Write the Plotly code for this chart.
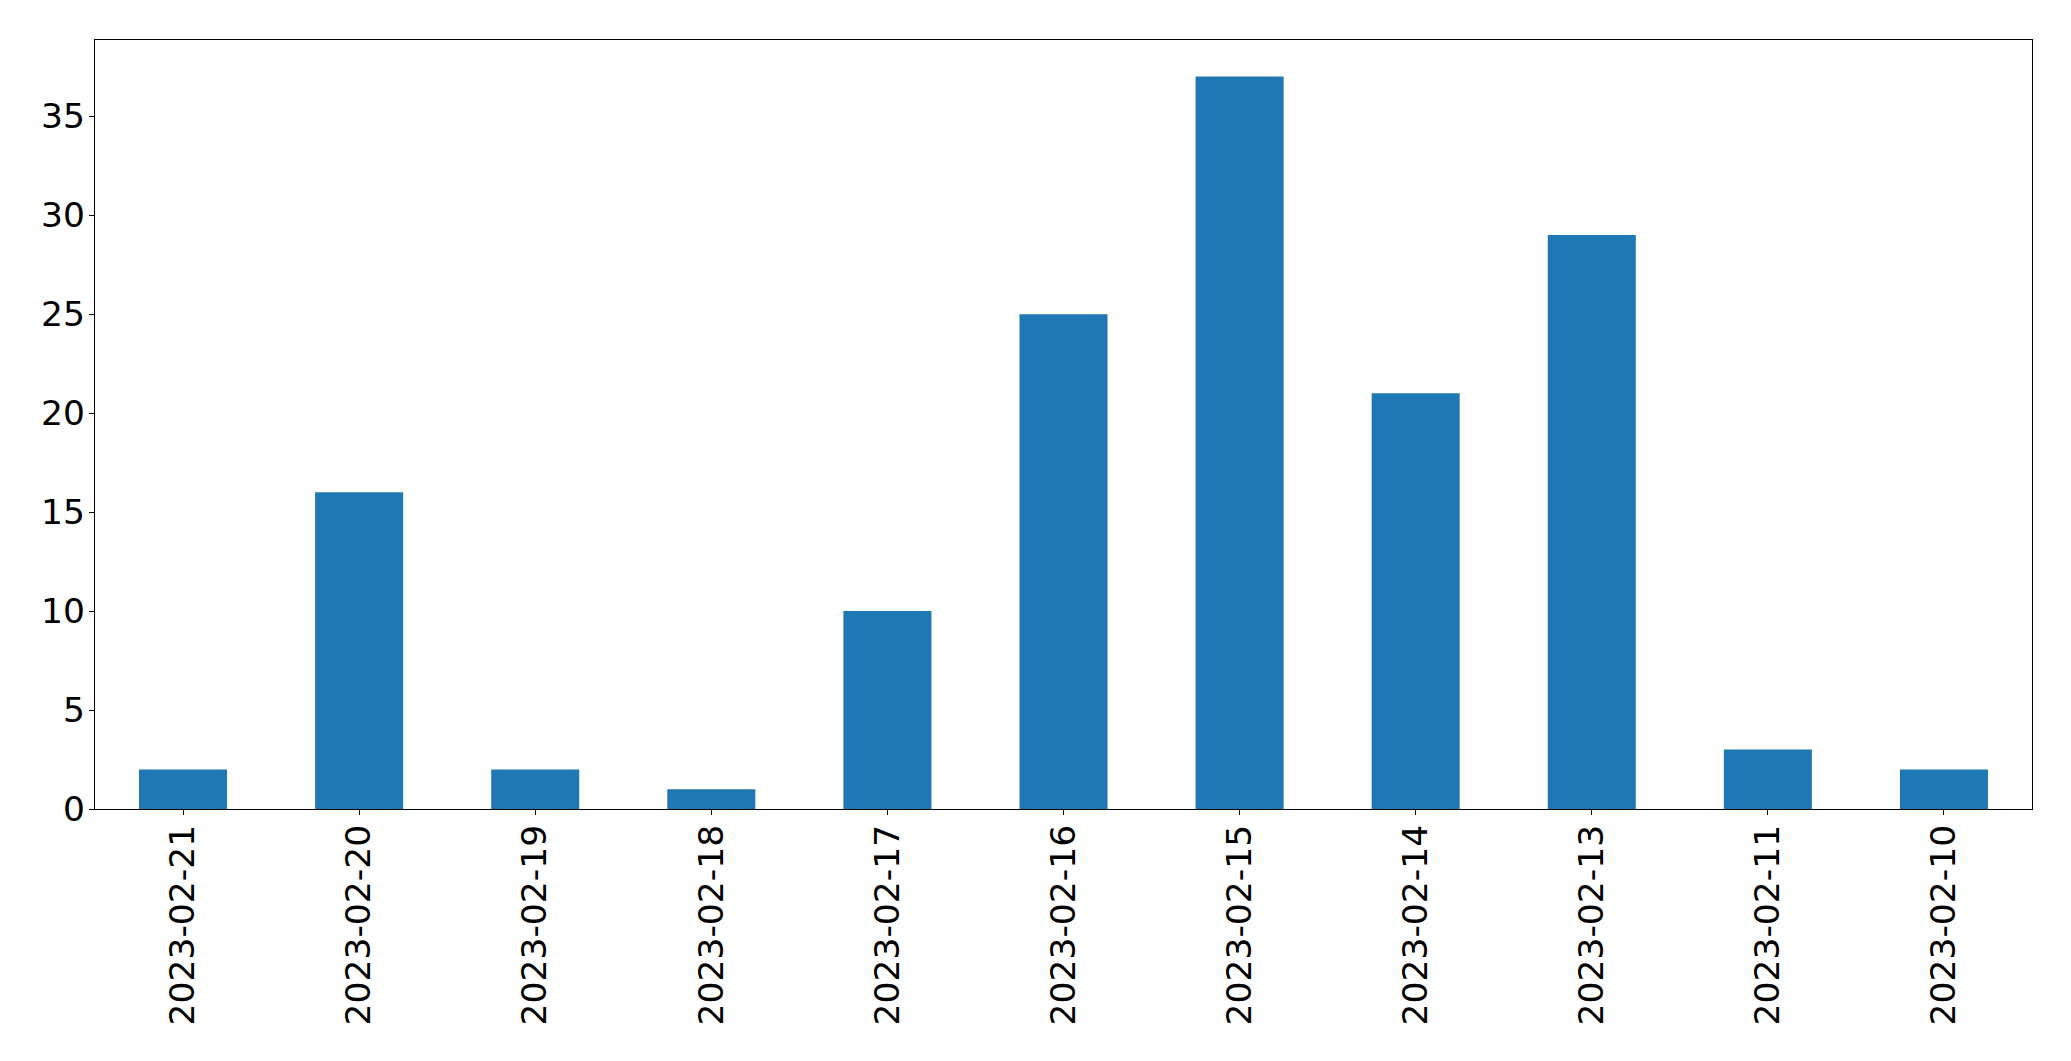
import plotly.graph_objects as go

categories = ["2023-02-21", "2023-02-20", "2023-02-19", "2023-02-18", "2023-02-17",
              "2023-02-16", "2023-02-15", "2023-02-14", "2023-02-13", "2023-02-11", "2023-02-10"]
values = [2, 16, 2, 1, 10, 25, 37, 21, 29, 3, 2]
y_ticks = [0, 5, 10, 15, 20, 25, 30, 35]

fig = go.Figure(go.Bar(x=categories, y=values, width=0.5, marker_color="#1f77b4",
                       marker_line_width=0))

# page body has an 8px margin, so the figure is offset by 8px
fig.update_layout(
    width=2063, height=1053,
    margin=dict(l=87, r=39, t=32, b=252),
    plot_bgcolor="white", paper_bgcolor="white",
    font=dict(family="DejaVu Sans", size=34.5, color="black"),
    showlegend=False,
)
fig.update_xaxes(
    type="category", range=[-0.5, len(categories) - 0.5],
    tickangle=-90, showline=True, linecolor="black", linewidth=1.2, mirror=True,
    ticks="outside", ticklen=5, tickwidth=1.2, tickcolor="black",
    showgrid=False, automargin=False, ticklabelstandoff=-4,
)
fig.update_yaxes(
    range=[0, max(values) * 1.05], tickvals=y_ticks,
    showline=True, linecolor="black", linewidth=1.2, mirror=True,
    ticks="outside", ticklen=5, tickwidth=1.2, tickcolor="black",
    showgrid=False, zeroline=False, automargin=False, ticklabelstandoff=-3,
)

fig.write_html("out.html")
